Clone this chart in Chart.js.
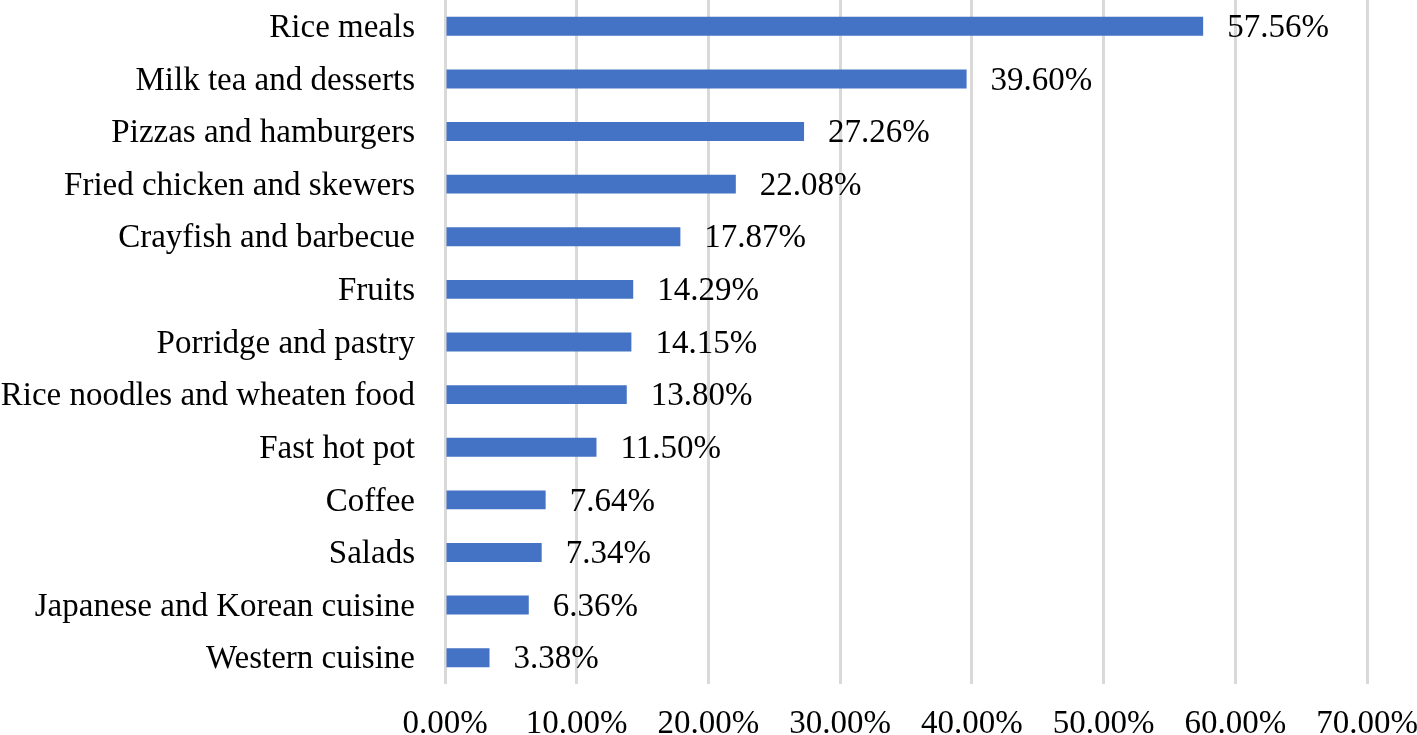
<!DOCTYPE html>
<html>
<head>
<meta charset="utf-8">
<script src="https://cdn.jsdelivr.net/npm/chart.js@4"></script>
<style>
  html, body { margin: 0; padding: 0; background: #fff; }
  #wrap { width: 1417px; height: 735px; }
</style>
</head>
<body>
<div id="wrap"><canvas id="barChart"></canvas></div>
<script>
const categories = ['Rice meals', 'Milk tea and desserts', 'Pizzas and hamburgers', 'Fried chicken and skewers',
  'Crayfish and barbecue', 'Fruits', 'Porridge and pastry', 'Rice noodles and wheaten food', 'Fast hot pot',
  'Coffee', 'Salads', 'Japanese and Korean cuisine', 'Western cuisine'];
const shares = [57.56, 39.60, 27.26, 22.08, 17.87, 14.29, 14.15, 13.80, 11.50, 7.64, 7.34, 6.36, 3.38];
const xTicks = [0, 10, 20, 30, 40, 50, 60, 70];

const font = { family: '"Liberation Serif", "Times New Roman", serif', size: 33 };

// value labels at the end of each bar
const valueLabels = {
  id: 'valueLabels',
  afterDatasetsDraw(chart) {
    const ctx = chart.ctx;
    const meta = chart.getDatasetMeta(0);
    ctx.save();
    ctx.font = font.size + 'px ' + font.family;
    ctx.fillStyle = '#000';
    ctx.textAlign = 'left';
    ctx.textBaseline = 'middle';
    meta.data.forEach((bar, i) => {
      ctx.fillText(shares[i].toFixed(2) + '%', bar.x + 24, bar.y + 2);
    });
    ctx.restore();
  }
};

new Chart(document.getElementById('barChart'), {
  type: 'bar',
  data: {
    labels: categories,
    datasets: [{
      data: shares,
      backgroundColor: '#4472c4',
      barPercentage: 0.36,
      categoryPercentage: 1
    }]
  },
  plugins: [valueLabels],
  options: {
    indexAxis: 'y',
    responsive: true,
    maintainAspectRatio: false,
    animation: false,
    layout: { padding: 0 },
    plugins: { legend: { display: false }, tooltip: { enabled: false } },
    scales: {
      x: {
        min: 0,
        max: 70,
        afterBuildTicks(scale) { scale.ticks = xTicks.map(v => ({ value: v })); },
        afterFit(scale) {
          scale.height = 51;
          scale.paddingLeft = 0;
          scale.paddingRight = 50;
        },
        grid: { color: '#d9d9d9', lineWidth: 3, drawTicks: false },
        border: { display: false },
        ticks: {
          color: '#000',
          font: font,
          padding: 21,
          maxRotation: 0,
          callback: v => v.toFixed(2) + '%'
        }
      },
      y: {
        grid: { display: false, drawTicks: false },
        border: { display: false },
        afterFit(scale) {
          scale.width = 445;
          scale.paddingTop = 0;
          scale.paddingBottom = 0;
        },
        ticks: { color: '#000', font: font, padding: 30, labelOffset: 2, autoSkip: false }
      }
    }
  }
});
</script>
</body>
</html>
